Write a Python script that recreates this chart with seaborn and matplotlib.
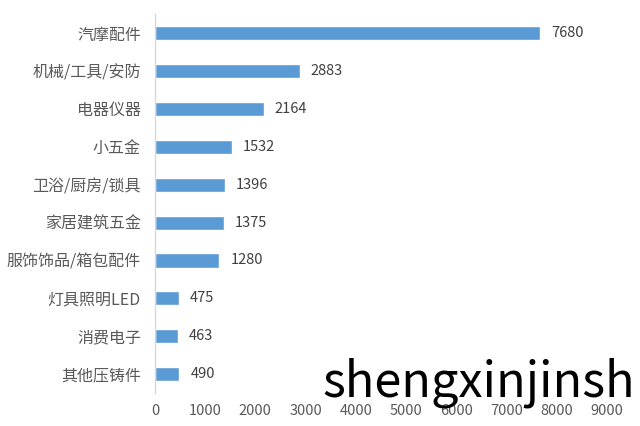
import numpy as np
import pandas as pd
import matplotlib
matplotlib.use("Agg")
import matplotlib.pyplot as plt
import seaborn as sns

categories = ['汽摩配件', '机械/工具/安防', '电器仪器', '小五金', '卫浴/厨房/锁具',
              '家居建筑五金', '服饰饰品/箱包配件', '灯具照明LED', '消费电子', '其他压铸件']
values = [7680, 2883, 2164, 1532, 1396, 1375, 1280, 475, 463, 490]
x_ticks = [0, 1000, 2000, 3000, 4000, 5000, 6000, 7000, 8000, 9000]

sns.set_style("white")
plt.rcParams['font.family'] = ['Noto Sans CJK SC', 'DejaVu Sans']

df = pd.DataFrame({'category': categories, 'value': values})

fig = plt.figure(figsize=(6.4, 4.26), dpi=100)
ax = fig.add_axes([0.242, 0.077, 0.706, 0.89])

sns.barplot(data=df, x='value', y='category', orient='h', color='#5B9BD5',
            width=0.37, saturation=1, ax=ax)

ax.bar_label(ax.containers[0], labels=[str(v) for v in values], padding=8,
             fontsize=10.5, color='#404040')

ax.set_xlim(0, 9000)
ax.set_ylim(len(categories) - 0.5, -0.5)
ax.set_xticks(x_ticks)
ax.set_xticklabels([str(t) for t in x_ticks], fontsize=10.5, color='#595959')
ax.tick_params(axis='x', length=0, pad=8)
ax.tick_params(axis='y', which='major', length=0, pad=10, labelsize=11.5, labelcolor='#595959')
ax.set_yticks(np.arange(-0.5, len(categories), 1), minor=True)
ax.tick_params(axis='y', which='minor', length=5, color='#D9D9D9', width=1)
ax.set_xlabel('')
ax.set_ylabel('')

for s in ['top', 'right', 'bottom']:
    ax.spines[s].set_visible(False)
ax.spines['left'].set_color('#D9D9D9')
ax.spines['left'].set_linewidth(1)

fig.text(322 / 640, 1 - 396 / 426, 'shengxinjinsh', fontsize=35, color='black',
         family=['Noto Sans CJK SC', 'DejaVu Sans'])

fig.savefig('out.png', dpi=100)
